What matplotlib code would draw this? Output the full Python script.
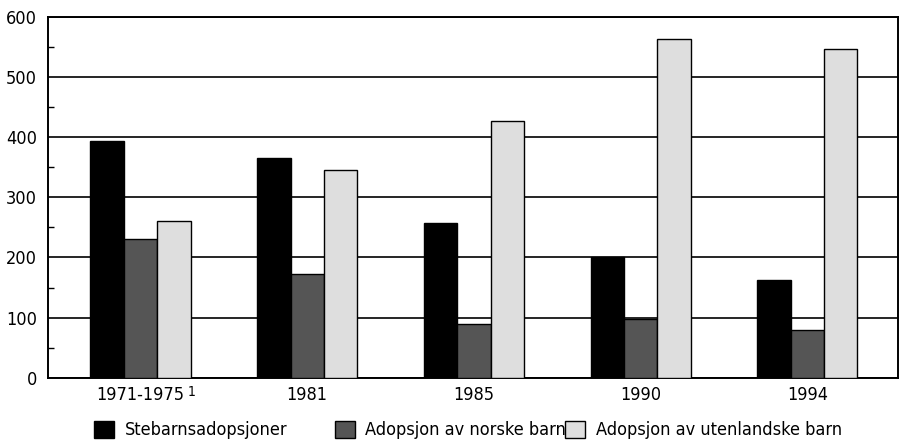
import matplotlib.pyplot as plt
from matplotlib.patches import Patch
import numpy as np

plt.rcParams["font.family"] = ["DejaVu Sans"]
plt.rcParams["font.stretch"] = "condensed"

categories = ["1971-1975", "1981", "1985", "1990", "1994"]
steb = [393, 366, 258, 200, 162]
norske = [231, 172, 89, 97, 80]
utenl = [260, 345, 427, 564, 546]
names = ["Stebarnsadopsjoner", "Adopsjon av norske barn", "Adopsjon av utenlandske barn"]
colors = ["#000000", "#555555", "#dedede"]

fig = plt.figure(figsize=(9.07, 4.48), dpi=100)
ax = fig.add_axes([0.0529, 0.157, 0.937, 0.805])

x = np.arange(len(categories))
w = 0.2
for i, vals in enumerate([steb, norske, utenl]):
    ax.bar(x + (i - 1) * w, vals, w, color=colors[i], edgecolor="black", linewidth=1.0, zorder=3)

ax.set_xlim(-0.555, 4.543)
ax.set_ylim(0, 600)
ax.set_yticks(range(0, 601, 100))
ax.set_yticks(range(50, 600, 100), minor=True)
ax.yaxis.grid(True, color="black", linewidth=1.2, zorder=0)
ax.tick_params(axis="y", which="major", length=0, labelsize=13, pad=8)
ax.tick_params(axis="y", which="minor", direction="in", length=4, width=1)
ax.set_xticks(x)
ax.set_xticklabels(categories)
ax.tick_params(axis="x", length=0, labelsize=13, pad=6)
for s in ax.spines.values():
    s.set_linewidth(1.4)
    s.set_color("black")

# footnote mark after the first period label
lab = ax.get_xticklabels()[0]
ax.annotate("1", xy=(1, 1), xycoords=lab, xytext=(2.5, 1), textcoords="offset points",
            ha="left", va="top", fontsize=10)

# legend, three separate entries placed along the bottom
xs = [0.1036, 0.369, 0.623]
for i in range(3):
    h = Patch(facecolor=colors[i], edgecolor="black", linewidth=1.0)
    fig.legend([h], [names[i]], loc="center left", bbox_to_anchor=(xs[i], 0.04),
               frameon=False, fontsize=13, handlelength=1.1, handleheight=1.1,
               handletextpad=0.6, borderpad=0, borderaxespad=0)

fig.savefig("out.png", dpi=100)
